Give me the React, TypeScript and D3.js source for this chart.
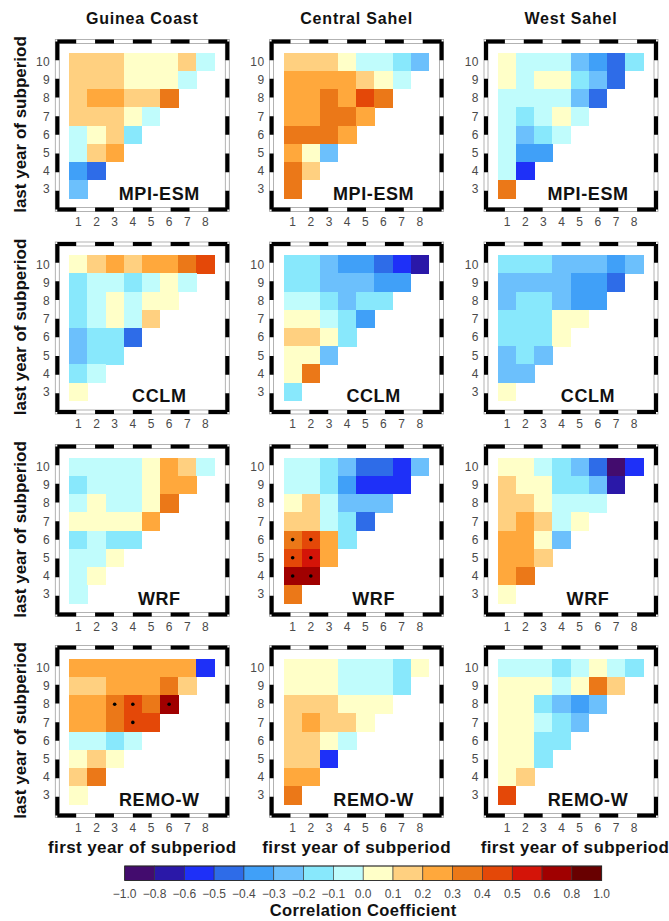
import React from 'react';
import * as d3 from 'd3';

const regions = ['Guinea Coast', 'Central Sahel', 'West Sahel'];
const models = ['MPI-ESM', 'CCLM', 'WRF', 'REMO-W'];
const firstYears = [1, 2, 3, 4, 5, 6, 7, 8];
const lastYears = [10, 9, 8, 7, 6, 5, 4, 3];
const colorBreaks = [-1.0, -0.8, -0.6, -0.5, -0.4, -0.3, -0.2, -0.1, 0.0, 0.1, 0.2, 0.3, 0.4, 0.5, 0.6, 0.8, 1.0];
const colorBreakLabels = ['−1.0', '−0.8', '−0.6', '−0.5', '−0.4', '−0.3', '−0.2', '−0.1', '0.0', '0.1', '0.2', '0.3', '0.4', '0.5', '0.6', '0.8', '1.0'];
const palette = ['#430c6e', '#2a18a8', '#1e30f8', '#2e6ce8', '#40a0f8', '#6cc0fc', '#88e8fc', '#c0fcfc',
  '#ffffc8', '#ffd080', '#ffa83c', '#eb7818', '#e44808', '#d41408', '#a00000', '#680000'];

// Each array: rows for last year 10 → 3; each row lists first years 1 … (last year − 2)
const gcMPI = [
  [0.15, 0.15, 0.15, 0.05, 0.05, 0.05, 0.15, -0.05],
  [0.15, 0.15, 0.15, 0.05, 0.05, 0.05, -0.05],
  [0.15, 0.25, 0.25, 0.15, 0.15, 0.35],
  [0.15, 0.15, 0.15, 0.05, -0.05],
  [-0.05, 0.05, 0.15, -0.15],
  [-0.05, 0.15, 0.25],
  [-0.35, -0.45],
  [-0.25],
];
const csMPI = [
  [0.15, 0.15, 0.15, 0.05, -0.05, -0.05, -0.15, -0.25],
  [0.25, 0.25, 0.25, 0.25, 0.15, 0.05, -0.05],
  [0.25, 0.25, 0.35, 0.25, 0.45, 0.35],
  [0.25, 0.25, 0.35, 0.35, 0.25],
  [0.35, 0.35, 0.35, 0.25],
  [0.25, 0.05, -0.25],
  [0.35, 0.15],
  [0.35],
];
const wsMPI = [
  [0.05, -0.05, -0.05, -0.05, -0.25, -0.35, -0.45, -0.15],
  [0.05, -0.05, 0.05, 0.05, -0.15, -0.25, -0.45],
  [-0.05, -0.05, -0.05, -0.05, -0.25, -0.45],
  [-0.05, -0.15, -0.05, 0.05, -0.05],
  [-0.05, -0.25, -0.15, -0.05],
  [-0.05, -0.35, -0.35],
  [-0.05, -0.55],
  [0.35],
];
const gcCCLM = [
  [0.05, 0.15, 0.25, 0.15, 0.25, 0.25, 0.35, 0.45],
  [-0.15, -0.05, -0.05, -0.15, -0.05, 0.05, -0.05],
  [-0.15, -0.05, 0.05, -0.05, 0.05, 0.05],
  [-0.15, -0.05, 0.05, -0.05, 0.15],
  [-0.25, -0.15, -0.15, -0.45],
  [-0.25, -0.15, -0.15],
  [-0.15, -0.05],
  [0.05],
];
const csCCLM = [
  [-0.15, -0.15, -0.25, -0.35, -0.35, -0.45, -0.55, -0.7],
  [-0.15, -0.15, -0.25, -0.25, -0.25, -0.35, -0.35],
  [-0.05, -0.05, -0.15, -0.25, -0.15, -0.15],
  [0.05, 0.05, -0.05, -0.15, -0.35],
  [0.15, 0.15, 0.05, -0.15],
  [0.05, 0.05, -0.25],
  [0.05, 0.35],
  [-0.15],
];
const wsCCLM = [
  [-0.15, -0.15, -0.15, -0.25, -0.25, -0.25, -0.35, -0.25],
  [-0.25, -0.25, -0.25, -0.25, -0.35, -0.35, -0.45],
  [-0.25, -0.15, -0.15, -0.25, -0.35, -0.35],
  [-0.15, -0.15, -0.15, 0.05, 0.05],
  [-0.15, -0.15, -0.15, 0.05],
  [-0.25, -0.15, -0.25],
  [-0.25, -0.25],
  [0.05],
];
const gcWRF = [
  [-0.05, -0.05, -0.05, -0.05, 0.05, 0.25, 0.15, -0.05],
  [-0.15, -0.05, -0.05, -0.05, 0.05, 0.25, 0.25],
  [-0.05, 0.05, -0.05, -0.05, 0.05, 0.35],
  [0.05, 0.05, 0.05, 0.05, 0.25],
  [-0.15, -0.05, -0.15, -0.15],
  [-0.05, -0.05, 0.05],
  [-0.05, 0.05],
  [-0.05],
];
const csWRF = [
  [-0.05, -0.05, -0.15, -0.25, -0.45, -0.45, -0.55, -0.25],
  [-0.05, -0.05, -0.15, -0.35, -0.55, -0.55, -0.55],
  [0.05, 0.15, -0.05, -0.25, -0.25, -0.25],
  [0.15, 0.15, -0.05, -0.15, -0.45],
  [0.35, 0.45, 0.25, -0.15],
  [0.45, 0.55, 0.25],
  [0.7, 0.7],
  [0.35],
];
const wsWRF = [
  [0.05, 0.05, -0.05, -0.15, -0.25, -0.45, -0.9, -0.55],
  [0.15, 0.05, 0.05, -0.15, -0.15, -0.25, -0.7],
  [0.15, 0.15, 0.05, -0.05, -0.05, -0.05],
  [0.15, 0.25, 0.15, -0.05, 0.05],
  [0.25, 0.25, 0.05, -0.25],
  [0.25, 0.25, 0.15],
  [0.25, 0.35],
  [0.05],
];
const gcREMO = [
  [0.25, 0.25, 0.25, 0.25, 0.25, 0.25, 0.25, -0.55],
  [0.15, 0.15, 0.25, 0.25, 0.25, 0.35, 0.15],
  [0.25, 0.25, 0.35, 0.45, 0.35, 0.7],
  [0.25, 0.25, 0.35, 0.45, 0.45],
  [-0.05, -0.05, -0.15, -0.05],
  [0.05, 0.15, 0.05],
  [0.15, 0.35],
  [0.05],
];
const csREMO = [
  [0.05, 0.05, 0.05, -0.05, -0.05, -0.05, -0.15, 0.05],
  [0.05, 0.05, 0.05, -0.05, -0.05, -0.05, -0.15],
  [0.15, 0.15, 0.15, 0.05, 0.05, 0.05],
  [0.15, 0.25, 0.15, 0.15, 0.05],
  [0.15, 0.15, 0.05, -0.05],
  [0.15, 0.15, -0.55],
  [0.25, 0.25],
  [0.35],
];
const wsREMO = [
  [-0.05, -0.05, -0.05, -0.15, -0.05, 0.05, -0.05, -0.15],
  [0.05, 0.05, 0.05, -0.05, 0.05, 0.35, 0.15],
  [0.05, 0.05, -0.15, -0.25, -0.35, -0.25],
  [0.05, 0.05, -0.05, -0.15, -0.25],
  [0.05, 0.05, -0.15, -0.15],
  [0.05, 0.05, -0.15],
  [0.05, 0.15],
  [0.45],
];

// significant cells as [first year, last year]
const sigCsWRF = [[1, 6], [2, 6], [1, 5], [2, 5], [1, 4], [2, 4]];
const sigGcREMO = [[3, 8], [4, 8], [6, 8], [4, 7]];

const panelData = [
  [gcMPI, csMPI, wsMPI],
  [gcCCLM, csCCLM, wsCCLM],
  [gcWRF, csWRF, wsWRF],
  [gcREMO, csREMO, wsREMO],
];
const panelSig: Record<string, number[][]> = { '2-1': sigCsWRF, '3-0': sigGcREMO };

const W = 669;
const H = 921;
const colLeft = [57.3, 271.6, 486];
const rowTop = [41.5, 244, 446.5, 647.5];
const FW = 170;
const FH = 168;
const FONT = 'Liberation Sans, Arial, Helvetica, sans-serif';

const color = d3.scaleThreshold<number, string>().domain(colorBreaks.slice(1, -1)).range(palette);

function Frame({ x, y, w, h }: { x: number; y: number; w: number; h: number }) {
  const segX = w / 9;
  const segY = h / 9;
  const sides = [
    [x, y, x + w, y, segX],
    [x + w, y, x + w, y + h, segY],
    [x, y + h, x + w, y + h, segX],
    [x, y, x, y + h, segY],
  ];
  return (
    <g>
      <rect x={x - 2} y={y - 2} width={w + 4} height={h + 4} fill="none" stroke="#a0a0a0" strokeWidth={0.8} />
      <rect x={x + 2} y={y + 2} width={w - 4} height={h - 4} fill="none" stroke="#a0a0a0" strokeWidth={0.8} />
      {sides.map((l, i) => (
        <line key={i} x1={l[0]} y1={l[1]} x2={l[2]} y2={l[3]} stroke="#000" strokeWidth={4}
          strokeDasharray={`${l[4]} ${l[4]}`} />
      ))}
    </g>
  );
}

function Panel({ r, c }: { r: number; c: number }) {
  const left = colLeft[c];
  const top = rowTop[r];
  const data = panelData[r][c];
  const x = d3.scaleBand<number>().domain(firstYears).range([left + 12, left + 157.2]);
  const y = d3.scaleBand<number>().domain(lastYears).range([top + 11.2, top + 156.8]);
  const sig = panelSig[`${r}-${c}`] || [];
  const cells: { fy: number; ly: number; v: number }[] = [];
  data.forEach((row, i) => {
    row.forEach((v, j) => cells.push({ fy: firstYears[j], ly: lastYears[i], v }));
  });
  return (
    <g>
      {cells.map((d, i) => (
        <rect key={i} x={x(d.fy)} y={y(d.ly)} width={x.bandwidth() + 0.3} height={y.bandwidth() + 0.3}
          fill={color(d.v)} shapeRendering="crispEdges" />
      ))}
      {sig.map((s, i) => (
        <circle key={i} cx={(x(s[0]) as number) + x.bandwidth() / 2} cy={(y(s[1]) as number) + y.bandwidth() / 2}
          r={1.8} fill="#000" />
      ))}
      <Frame x={left} y={top} w={FW} h={FH} />
      {lastYears.map((ly) => (
        <text key={ly} x={left - 7} y={(y(ly) as number) + y.bandwidth() / 2} dy="0.35em" textAnchor="end"
          fontFamily={FONT} fontSize={12} letterSpacing={0.5} fill="#4a4a4a">{ly}</text>
      ))}
      {firstYears.map((fy) => (
        <text key={fy} x={(x(fy) as number) + x.bandwidth() / 2} y={top + FH + 16} textAnchor="middle"
          fontFamily={FONT} fontSize={12} fill="#4a4a4a">{fy}</text>
      ))}
      <text x={left + 102} y={top + 158} textAnchor="middle" fontFamily={FONT} fontWeight="bold" fontSize={18}
        letterSpacing={0.6} fill="#111">{models[r]}</text>
    </g>
  );
}

export default function App() {
  const cbX = d3.scaleLinear().domain([0, 16]).range([124.7, 601.7]);
  const cbTop = 866;
  const cbH = 14.5;
  return (
    <svg width={W} height={H} viewBox={`0 0 ${W} ${H}`}
      style={{ position: 'absolute', left: 0, top: 0, background: '#fff' }}>
      <rect x={0} y={0} width={W} height={H} fill="#fff" />
      {regions.map((t, c) => (
        <text key={t} x={colLeft[c] + FW / 2} y={23.5} textAnchor="middle" fontFamily={FONT} fontWeight="bold"
          fontSize={16} letterSpacing={0.8} fill="#111">{t}</text>
      ))}
      {models.map((m, r) => (
        <text key={m} transform={`translate(26,${rowTop[r] + FH / 2 - 1}) rotate(-90)`} textAnchor="middle"
          fontFamily={FONT} fontWeight="bold" fontSize={17} fill="#111">last year of subperiod</text>
      ))}
      {panelData.map((row, r) => row.map((_, c) => <Panel key={`${r}-${c}`} r={r} c={c} />))}
      {regions.map((t, c) => (
        <text key={t} x={colLeft[c] + FW / 2 + (c === 2 ? 4 : 0)} y={853} textAnchor="middle" fontFamily={FONT}
          fontWeight="bold" fontSize={17} letterSpacing={0.4} fill="#111">first year of subperiod</text>
      ))}
      {palette.map((p, i) => (
        <rect key={i} x={cbX(i)} y={cbTop} width={cbX(i + 1) - cbX(i)} height={cbH} fill={p}
          stroke="#333" strokeWidth={0.6} />
      ))}
      <rect x={cbX(0)} y={cbTop} width={cbX(16) - cbX(0)} height={cbH} fill="none" stroke="#222" strokeWidth={0.8} />
      {colorBreakLabels.map((l, i) => (
        <text key={i} x={cbX(i)} y={898} textAnchor="middle" fontFamily={FONT} fontSize={12} fill="#4a4a4a">{l}</text>
      ))}
      <text x={cbX(8)} y={915.5} textAnchor="middle" fontFamily={FONT} fontWeight="bold" fontSize={16.5}
        letterSpacing={0.4} fill="#111">Correlation Coefficient</text>
    </svg>
  );
}
